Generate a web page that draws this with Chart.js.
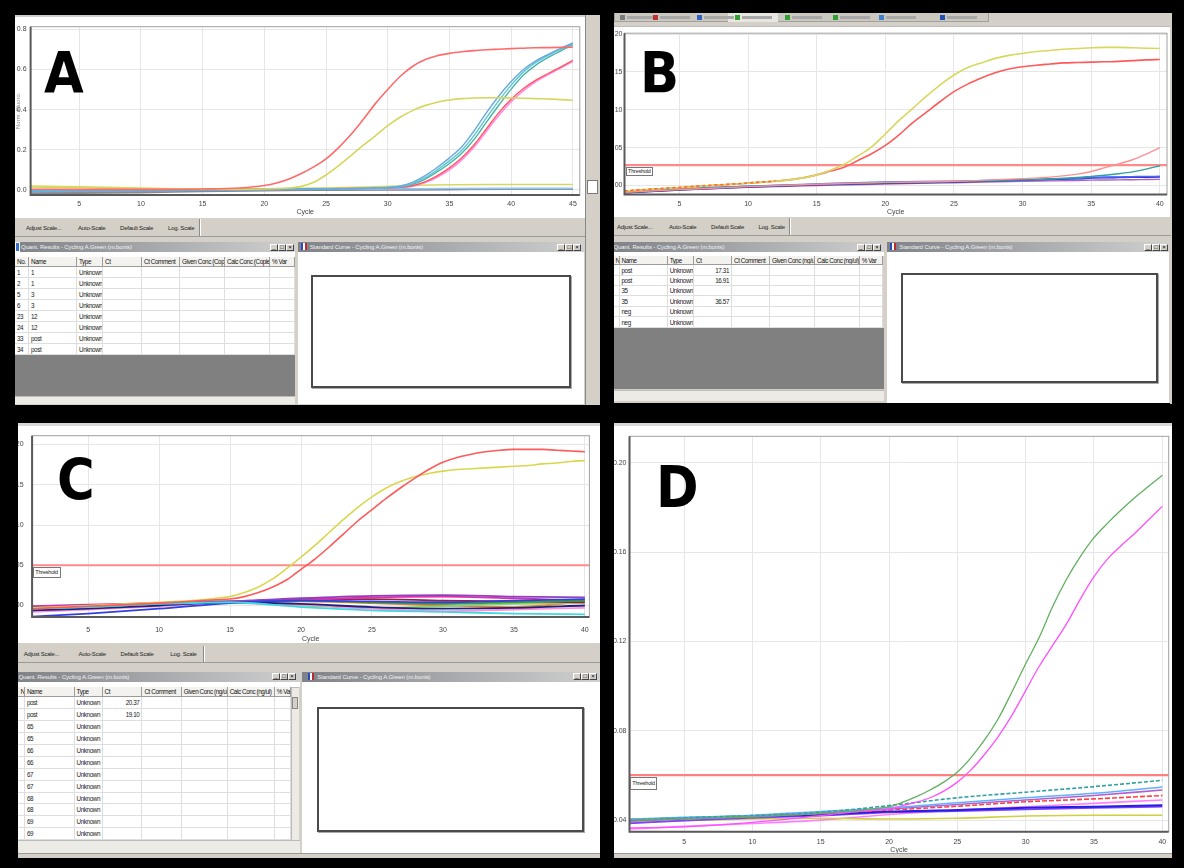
<!DOCTYPE html>
<html lang="en">
<head>
<meta charset="UTF-8">
<title>Amplification plots A-D</title>
<script src="https://cdn.jsdelivr.net/npm/chart.js"></script>
<style>
  body { margin: 0; background: #000; font-family: 'Liberation Sans', Arial, sans-serif; }
  #page { position: relative; width: 1184px; height: 868px; overflow: hidden; background: #000; }
  .abs { position: absolute; box-sizing: border-box; }
  .white { background: #fff; }
  .grey { background: #d4d0c8; }
  .dark { background: #808080; }
  canvas { position: absolute; z-index: 1; }
  .letter { position: absolute; z-index: 3; font-family: 'Liberation Sans Narrow', 'DejaVu Sans Condensed', 'Liberation Sans', sans-serif; font-weight: bold; font-size: 57px; line-height: 57px; color: #000; }
  .bl { position: absolute; font-size: 6px; letter-spacing: -0.2px; line-height: 8px; color: #222; white-space: nowrap; }
  .tb { position: absolute; height: 10px; background: linear-gradient(to right, #7f8288, #d0d0d0); color: #f2f2f2; font-size: 6px; letter-spacing: -0.1px; line-height: 10px; white-space: nowrap; overflow: hidden; box-sizing: border-box; }
  .wb { position: absolute; top: 1.5px; width: 8px; height: 7px; background: #d4d0c8; border: 1px solid; border-color: #fff #444 #444 #fff; font-size: 6px; line-height: 5px; text-align: center; color: #000; box-sizing: border-box; }
  .hc, .c { position: absolute; box-sizing: border-box; font-size: 6.3px; letter-spacing: -0.4px; white-space: nowrap; overflow: hidden; padding-left: 2px; }
  .hc { background: #f3f2ee; color: #111; border-right: 1px solid #9c9c9c; border-bottom: 1px solid #9c9c9c; }
  .c { background: #fff; color: #222; border-right: 1px solid #dedede; border-bottom: 1px solid #dedede; }
  .c.num { text-align: right; padding-right: 2px; }
  .thr { position: absolute; z-index: 3; background: #fff; border: 1px solid #777; font-size: 5.5px; letter-spacing: -0.2px; line-height: 8px; padding: 0 1px; color: #222; white-space: nowrap; overflow: hidden; box-sizing: border-box; }
  .inner { position: absolute; border: 2px solid #4a4a4a; background: #fff; box-sizing: border-box; box-shadow: 1px 1px 0 #aaa; }
  .scroll { position: absolute; background: #ecebe6; border-top: 1px solid #bbb; box-sizing: border-box; }
  .ico { position: absolute; width: 5px; height: 5px; }
  .blur { position: absolute; height: 3px; background: #a8a8a8; }
</style>
</head>
<body>
<div id="page">
  <canvas id="chartA" width="570" height="203" style="left:15px;top:15px"></canvas>
  <canvas id="chartB" width="556" height="191" style="left:613.5px;top:26.7px"></canvas>
  <canvas id="chartC" width="582" height="221" style="left:18.4px;top:422.7px"></canvas>
  <canvas id="chartD" width="558" height="435" style="left:613.5px;top:422.7px"></canvas>
</div>

<script>
  // ---- panel A (cycles 1..45) ----
  const A_cycles = [1, 5, 10, 15, 18, 20, 21, 22, 23, 24, 25, 26, 27, 28, 29, 30, 31, 32, 33, 34, 35, 36, 37, 38, 39, 40, 41, 42, 43, 44, 45];
  const A_red    = [0.004, 0.003, 0.003, 0.005, 0.010, 0.022, 0.035, 0.055, 0.082, 0.115, 0.155, 0.21, 0.275, 0.35, 0.43, 0.50, 0.565, 0.615, 0.648, 0.668, 0.68, 0.688, 0.694, 0.698, 0.701, 0.704, 0.706, 0.708, 0.709, 0.710, 0.711];
  const A_yellow = [0.015, 0.012, 0.006, 0.004, 0.004, 0.005, 0.007, 0.010, 0.018, 0.038, 0.075, 0.12, 0.17, 0.222, 0.27, 0.32, 0.362, 0.395, 0.42, 0.437, 0.448, 0.455, 0.458, 0.459, 0.459, 0.458, 0.457, 0.455, 0.453, 0.45, 0.447];
  const A_blue   = [-0.005, -0.004, -0.002, 0.0, 0.002, 0.003, 0.004, 0.004, 0.005, 0.005, 0.006, 0.006, 0.007, 0.008, 0.010, 0.013, 0.02, 0.038, 0.07, 0.112, 0.16, 0.215, 0.295, 0.385, 0.468, 0.54, 0.6, 0.643, 0.675, 0.705, 0.732];
  const A_cyan   = [-0.004, -0.003, -0.001, 0.001, 0.002, 0.003, 0.003, 0.004, 0.004, 0.005, 0.005, 0.006, 0.006, 0.007, 0.009, 0.012, 0.017, 0.032, 0.06, 0.1, 0.145, 0.198, 0.272, 0.36, 0.445, 0.522, 0.588, 0.635, 0.67, 0.7, 0.727];
  const A_teal   = [-0.006, -0.005, -0.003, 0.0, 0.002, 0.002, 0.003, 0.003, 0.004, 0.004, 0.005, 0.005, 0.006, 0.007, 0.008, 0.011, 0.015, 0.028, 0.053, 0.09, 0.132, 0.183, 0.252, 0.338, 0.422, 0.502, 0.572, 0.622, 0.66, 0.692, 0.722];
  const A_red2   = [-0.002, -0.002, 0.0, 0.002, 0.003, 0.004, 0.004, 0.005, 0.005, 0.006, 0.006, 0.007, 0.007, 0.008, 0.008, 0.010, 0.013, 0.021, 0.04, 0.07, 0.11, 0.16, 0.225, 0.305, 0.385, 0.452, 0.505, 0.547, 0.58, 0.612, 0.646];
  const A_pink   = [-0.003, -0.003, -0.001, 0.001, 0.002, 0.003, 0.003, 0.004, 0.004, 0.005, 0.005, 0.006, 0.006, 0.007, 0.007, 0.009, 0.012, 0.019, 0.036, 0.063, 0.1, 0.15, 0.214, 0.293, 0.372, 0.44, 0.495, 0.54, 0.575, 0.607, 0.64];
  const A_baseCycles = [1, 5, 10, 15, 20, 25, 30, 35, 40, 45];
  const A_baseYellow = [0.02, 0.016, 0.01, 0.006, 0.006, 0.01, 0.018, 0.026, 0.027, 0.027];
  const A_baseLtBlue = [-0.008, -0.006, -0.004, 0.0, 0.003, 0.004, 0.005, 0.007, 0.008, 0.008];
  const A_baseGrey   = [-0.016, -0.015, -0.012, -0.006, -0.002, 0.0, 0.002, 0.004, 0.005, 0.005];
  const A_baseGreen  = [0.0, -0.002, 0.0, 0.004, 0.006, 0.007, 0.006, 0.005, 0.005, 0.005];
  const A_basePurple = [-0.012, -0.01, -0.007, -0.004, -0.001, 0.001, 0.002, 0.003, 0.004, 0.004];
  const A_baseOrange = [-0.004, -0.006, -0.003, 0.002, 0.004, 0.005, 0.005, 0.006, 0.006, 0.006];
  const A_xTicks = [5, 10, 15, 20, 25, 30, 35, 40, 45];
  const A_yTicks = [0, 0.2, 0.4, 0.6, 0.8];
  const A_yLabels = ['0.0', '0.2', '0.4', '0.6', '0.8'];

  // ---- panel B (cycles 1..40) ----
  const B_cycles = [1, 3, 5, 7, 10, 12, 14, 15, 16, 17, 18, 19, 20, 21, 22, 23, 24, 25, 26, 27, 28, 29, 30, 31, 32, 33, 34, 35, 36, 37, 38, 39, 40];
  const B_yellow = [-0.75, -0.5, -0.3, -0.05, 0.3, 0.55, 1.0, 1.4, 2.0, 2.8, 3.9, 5.1, 6.8, 8.6, 10.2, 11.8, 13.3, 14.6, 15.6, 16.2, 16.8, 17.2, 17.45, 17.7, 17.85, 18.0, 18.1, 18.2, 18.25, 18.25, 18.2, 18.15, 18.1];
  const B_red    = [-0.75, -0.5, -0.3, -0.05, 0.3, 0.55, 1.0, 1.4, 1.9, 2.4, 3.3, 4.2, 5.3, 6.7, 8.3, 9.7, 11.1, 12.4, 13.4, 14.2, 14.9, 15.4, 15.7, 15.9, 16.05, 16.2, 16.25, 16.3, 16.35, 16.4, 16.5, 16.6, 16.65];
  const B_lateCycles = [1, 5, 10, 15, 20, 25, 30, 32, 34, 35, 36, 37, 38, 39, 40];
  const B_pink   = [-0.9, -0.55, -0.15, 0.15, 0.4, 0.55, 0.9, 1.1, 1.5, 1.85, 2.35, 2.85, 3.4, 4.15, 5.0];
  const B_teal   = [-0.9, -0.5, -0.1, 0.15, 0.35, 0.5, 0.75, 0.85, 1.05, 1.2, 1.35, 1.55, 1.8, 2.15, 2.6];
  const B_blue   = [-0.9, -0.45, -0.1, 0.2, 0.45, 0.55, 0.75, 0.85, 0.95, 1.05, 1.1, 1.12, 1.15, 1.18, 1.2];
  const B_navy   = [-0.95, -0.6, -0.2, 0.1, 0.3, 0.45, 0.7, 0.8, 0.9, 0.98, 1.02, 1.05, 1.08, 1.1, 1.12];
  const B_purple = [-1.0, -0.6, -0.25, 0.0, 0.2, 0.35, 0.55, 0.6, 0.66, 0.7, 0.72, 0.74, 0.76, 0.78, 0.8];
  const B_dashCycles = [1, 3, 5, 7, 9, 12];
  const B_dash   = [-0.72, -0.48, -0.25, 0.0, 0.2, 0.6];
  const B_threshold = 2.7;
  const B_xTicks = [5, 10, 15, 20, 25, 30, 35, 40];
  const B_yTicks = [0, 5, 10, 15, 20];
  const B_yLabels = ['00', '05', '10', '15', '20'];

  // ---- panel C ----
  const C_cycles = [1, 5, 10, 13, 14, 15, 16, 17, 18, 19, 20, 21, 22, 23, 24, 25, 26, 27, 28, 29, 30, 31, 32, 33, 34, 35, 36, 37, 38, 39, 40];
  const C_yellow = [-0.003, 0.0, 0.004, 0.007, 0.009, 0.011, 0.016, 0.023, 0.033, 0.046, 0.06, 0.075, 0.091, 0.107, 0.122, 0.135, 0.146, 0.154, 0.160, 0.164, 0.167, 0.169, 0.170, 0.171, 0.172, 0.173, 0.174, 0.176, 0.177, 0.179, 0.180];
  const C_red    = [-0.004, -0.001, 0.003, 0.006, 0.007, 0.008, 0.011, 0.016, 0.023, 0.032, 0.045, 0.058, 0.073, 0.089, 0.105, 0.119, 0.133, 0.146, 0.158, 0.169, 0.178, 0.184, 0.188, 0.191, 0.193, 0.194, 0.194, 0.194, 0.193, 0.192, 0.191];
  const C_baseCycles = [1, 5, 10, 15, 20, 25, 30, 35, 40];
  const C_baseCyan    = [-0.004, -0.002, 0.002, 0.004, -0.002, -0.006, -0.008, -0.010, -0.011];
  const C_baseBlue    = [-0.014, -0.010, -0.004, 0.003, 0.006, 0.005, 0.004, 0.006, 0.008];
  const C_baseNavy    = [-0.006, -0.004, 0.0, 0.004, 0.002, -0.002, -0.004, -0.003, 0.0];
  const C_basePurple  = [-0.002, 0.0, 0.003, 0.005, 0.009, 0.012, 0.013, 0.011, 0.010];
  const C_baseGreen   = [-0.003, -0.001, 0.002, 0.004, 0.006, 0.004, 0.002, 0.004, 0.006];
  const C_baseMagenta = [-0.001, 0.001, 0.003, 0.005, 0.007, 0.010, 0.011, 0.009, 0.006];
  const C_basePink    = [-0.008, -0.005, -0.001, 0.003, 0.001, -0.004, -0.007, -0.005, -0.003];
  const C_baseDkRed   = [-0.001, 0.0, 0.003, 0.004, 0.008, 0.008, 0.006, 0.005, 0.004];
  const C_baseLtGreen = [-0.005, -0.003, 0.001, 0.004, 0.0, -0.003, -0.001, 0.002, 0.003];
  const C_baseOrange  = [-0.002, 0.0, 0.003, 0.005, 0.005, 0.003, 0.0, -0.002, 0.005];
  const C_threshold = 0.05;
  const C_xTicks = [5, 10, 15, 20, 25, 30, 35, 40];
  const C_yTicks = [0, 0.05, 0.10, 0.15, 0.20];
  const C_yLabels = ['0.00', '0.05', '0.10', '0.15', '0.20'];

  // ---- panel D ----
  const D_cycles = [1, 5, 10, 15, 18, 20, 21, 22, 23, 24, 25, 26, 27, 28, 29, 30, 31, 32, 33, 34, 35, 36, 37, 38, 39, 40];
  const D_green   = [0.040, 0.0405, 0.0415, 0.043, 0.0445, 0.046, 0.048, 0.0505, 0.0535, 0.057, 0.0615, 0.068, 0.076, 0.0855, 0.0975, 0.110, 0.122, 0.136, 0.148, 0.158, 0.1665, 0.173, 0.179, 0.1845, 0.1895, 0.1945];
  const D_magenta = [0.0365, 0.037, 0.039, 0.042, 0.044, 0.045, 0.0465, 0.048, 0.050, 0.053, 0.057, 0.0625, 0.0695, 0.0775, 0.087, 0.098, 0.109, 0.1185, 0.128, 0.139, 0.149, 0.157, 0.163, 0.1685, 0.1745, 0.1805];
  const D_baseCycles = [1, 5, 10, 15, 20, 25, 30, 35, 40];
  const D_baseTeal   = [0.040, 0.041, 0.042, 0.0435, 0.0465, 0.050, 0.0525, 0.055, 0.0578];
  const D_baseLtBlue = [0.0405, 0.0412, 0.0422, 0.0438, 0.0455, 0.0478, 0.050, 0.052, 0.0548];
  const D_basePurple = [0.0395, 0.0405, 0.0415, 0.043, 0.045, 0.047, 0.049, 0.051, 0.0535];
  const D_baseRed    = [0.040, 0.041, 0.0418, 0.043, 0.0445, 0.0462, 0.0482, 0.0495, 0.051];
  const D_baseBlue   = [0.0402, 0.0408, 0.0418, 0.0425, 0.0438, 0.0445, 0.0455, 0.046, 0.0466];
  const D_baseViolet = [0.0385, 0.0398, 0.041, 0.042, 0.0435, 0.044, 0.0448, 0.0455, 0.046];
  const D_baseYellow = [0.039, 0.0398, 0.0405, 0.0408, 0.0405, 0.0408, 0.0418, 0.0422, 0.0422];
  const D_basePink   = [0.036, 0.0372, 0.0385, 0.040, 0.0425, 0.0445, 0.046, 0.0475, 0.049];
  const D_threshold = 0.0601;
  const D_xTicks = [5, 10, 15, 20, 25, 30, 35, 40];
  const D_yTicks = [0.04, 0.08, 0.12, 0.16, 0.20];
  const D_yLabels = ['0.04', '0.08', '0.12', '0.16', '0.20'];

  // ---- results tables ----
  const A_header = ['No.', 'Name', 'Type', 'Ct', 'Ct Comment', 'Given Conc (Copies)', 'Calc Conc (Copies)', '% Var'];
  const A_rows = [['1', '1', 'Unknown', ''], ['2', '1', 'Unknown', ''], ['5', '3', 'Unknown', ''], ['6', '3', 'Unknown', ''],
                  ['23', '12', 'Unknown', ''], ['24', '12', 'Unknown', ''], ['33', 'post', 'Unknown', ''], ['34', 'post', 'Unknown', '']];
  const B_header = ['No.', 'Name', 'Type', 'Ct', 'Ct Comment', 'Given Conc (ng/ul)', 'Calc Conc (ng/ul)', '% Var'];
  const B_rows = [['', 'post', 'Unknown', '17.31'], ['', 'post', 'Unknown', '16.91'], ['', '35', 'Unknown', ''],
                  ['', '35', 'Unknown', '36.57'], ['', 'neg', 'Unknown', ''], ['', 'neg', 'Unknown', '']];
  const C_rows = [['', 'post', 'Unknown', '20.37'], ['', 'post', 'Unknown', '19.10'], ['', '65', 'Unknown', ''], ['', '65', 'Unknown', ''],
                  ['', '66', 'Unknown', ''], ['', '66', 'Unknown', ''], ['', '67', 'Unknown', ''], ['', '67', 'Unknown', ''],
                  ['', '68', 'Unknown', ''], ['', '68', 'Unknown', ''], ['', '69', 'Unknown', ''], ['', '69', 'Unknown', '']];
  const scaleButtons = ['Adjust Scale...', 'Auto-Scale', 'Default Scale', 'Log. Scale'];

  const page = document.getElementById('page');
  function add(html) { page.insertAdjacentHTML('beforeend', html); }
  function box(l, t, w, h, cls, extra) {
    add(`<div class="abs ${cls || ''}" style="left:${l}px;top:${t}px;width:${w}px;height:${h}px;${extra || ''}"></div>`);
  }
  function titleBar(l, t, w, text, indent, btnX, icon) {
    let ic = icon ? '<span style="display:inline-block;width:6px;height:7px;background:#fff;border-left:2px solid #2a4cc0;border-right:2px solid #c02a2a;margin:0 3px 0 2px;vertical-align:-1px;box-sizing:border-box"></span>' : '';
    add(`<div class="tb" style="left:${l}px;top:${t}px;width:${w}px;padding-left:${indent}px">${ic}${text}</div>`);
    ['_', '□', '×'].forEach((s, i) => add(`<div class="wb" style="left:${btnX + i * 8}px;top:${t + 1.5}px">${s}</div>`));
  }
  function buttonBar(l, t, w, h, xs, sep) {
    box(l, t, w, h, 'grey', 'border-bottom:1px solid #9a9a9a');
    scaleButtons.forEach((s, i) => add(`<div class="bl" style="left:${xs[i]}px;top:${t + h / 2 - 4}px">${s}</div>`));
    box(sep, t + 1, 2, h - 2, '', 'border-left:1px solid #8a8a8a;border-right:1px solid #fff');
  }
  function grid(bounds, top, headH, rowH, header, rows) {
    for (let i = 0; i < bounds.length - 1; i++) {
      const l = bounds[i], w = bounds[i + 1] - bounds[i];
      add(`<div class="hc" style="left:${l}px;top:${top}px;width:${w}px;height:${headH}px;line-height:${headH}px">${header[i]}</div>`);
      rows.forEach((r, j) => {
        const y = Math.round(top + headH + j * rowH);
        const y2 = Math.round(top + headH + (j + 1) * rowH);
        add(`<div class="c ${i === 3 ? 'num' : ''}" style="left:${l}px;top:${y}px;width:${w}px;height:${y2 - y}px;line-height:${y2 - y}px">${r[i] || ''}</div>`);
      });
    }
  }
  function letter(ch, l, t) { add(`<div class="letter" style="left:${l}px;top:${t}px">${ch}</div>`); }
  function thresholdTag(l, t, w, h) { add(`<div class="thr" style="left:${l}px;top:${t}px;width:${w}px;height:${h}px;line-height:${h - 2}px">Threshold</div>`); }

  // ---------- window chrome ----------
  // A
  box(15, 15, 570, 203, 'white', 'border-top:2px solid #cfcfcf');
  box(585, 15, 15, 390, 'grey', 'border-left:1px solid #888');
  box(587, 180, 11, 14, 'white', 'border:1px solid #777');
  box(15, 218, 570, 187, 'grey');
  buttonBar(15, 218, 570, 19, [26, 78, 120, 168], 199);
  titleBar(15, 242, 280, 'Quant. Results - Cycling A.Green (m.bonis)', 6, 270, false);
  box(15, 242, 5, 10, '', 'background:#3a70d0;border:1px solid #fff');
  box(15, 252, 280, 5, 'white');
  grid([15, 29, 77, 103, 142, 180, 225, 270, 295], 256.7, 10, 11, A_header, A_rows);
  box(15, 354.7, 280, 41, 'dark');
  box(15, 396, 280, 8, 'scroll');
  titleBar(297.7, 242, 286, 'Standard Curve - Cycling A.Green (m.bonis)', 1, 557, true);
  box(297.7, 252, 286, 152, 'white');
  box(311, 275, 260, 113, 'inner');

  // B
  box(613.5, 13, 557, 14, 'grey', 'border-bottom:1px solid #bbb');
  box(613.5, 13, 375, 9, '', 'border:1px solid #a0a0a0;border-top:none;background:#cbc8c0');
  box(728, 13, 50, 9, '', 'background:#e8e6e0');
  [[620, '#7a7a7a'], [653, '#c03030'], [697, '#3060c0'], [735, '#30a030'], [785, '#30a030'], [833, '#30a030'], [879, '#4080d0'], [940, '#2050b0']].forEach(p => {
    add(`<div class="ico" style="left:${p[0]}px;top:15px;background:${p[1]}"></div>`);
    add(`<div class="blur" style="left:${p[0] + 7}px;top:16px;width:30px"></div>`);
  });
  box(613.5, 26.7, 556, 191, 'white');
  box(1169.5, 13, 2, 391, 'grey');
  box(613.5, 217.3, 557, 186, 'grey');
  buttonBar(613.5, 217.3, 557, 19, [617, 669, 711, 758.5], 789);
  titleBar(613.5, 242, 270, 'Quant. Results - Cycling A.Green (m.bonis)', 0, 857, false);
  box(613.5, 252, 270, 4, 'white');
  grid([613.5, 619.5, 667.7, 694, 732, 770, 815, 859.7, 883.5], 255.7, 9.5, 10.4, B_header, B_rows);
  box(613.5, 328, 270, 61, 'dark');
  box(613.5, 389.5, 270, 11, 'scroll');
  titleBar(887.3, 242, 282, 'Standard Curve - Cycling A.Green (m.bonis)', 1, 1144, true);
  box(887.3, 252, 282, 151, 'white');
  box(900.6, 272.7, 257, 110, 'inner');

  // C
  box(18.4, 422.7, 581.6, 221, 'white', 'border-top:3px solid #d8d8d8');
  box(18.4, 643.3, 581.6, 215, 'grey');
  buttonBar(18.4, 645, 581.6, 18, [23.7, 78.5, 120.5, 170.3], 202.8);
  titleBar(18.4, 671.7, 282, 'Quant. Results - Cycling A.Green (m.bonis)', 0, 272, false);
  box(18.4, 681.7, 282, 5, 'white');
  grid([18.4, 24.9, 74.6, 102.6, 142.4, 181.8, 227.7, 274.8, 290.8], 686.7, 10.6, 11.9, B_header, C_rows);
  box(290.8, 686.7, 8, 153.3, 'scroll', 'border-left:1px solid #bbb');
  box(291.5, 697, 6.5, 12, 'grey', 'border:1px solid #888');
  box(18.4, 840, 282, 13, 'scroll');
  titleBar(302.3, 671.7, 297.7, 'Standard Curve - Cycling A.Green (m.bonis)', 4, 573, true);
  box(302.3, 681.7, 297.7, 171, 'white');
  box(316.9, 706.7, 266.7, 125, 'inner');
  box(18.4, 853, 581.6, 5, 'grey', 'border-top:1px solid #999');

  // D
  box(613.5, 422.7, 558, 431, 'white', 'border-top:3px solid #d8d8d8');
  box(613.5, 853.3, 558, 5, 'grey', 'border-top:1px solid #999;z-index:2');

  // threshold tags and panel letters
  thresholdTag(626, 166.7, 27, 9.5);
  thresholdTag(33.3, 566.7, 27.5, 11.5);
  thresholdTag(630.3, 776.7, 27, 13);
  letter('A', 44, 44.5);
  letter('B', 640, 44.5);
  letter('C', 57, 451.5);
  letter('D', 656, 458.5);

  // ---------- charts ----------
  const tickFont = { family: "'Liberation Sans', Arial, sans-serif", size: 7 };

  const framePlugin = {
    id: 'frame',
    afterDatasetsDraw(chart) {
      const { ctx, chartArea: a } = chart;
      ctx.save();
      ctx.strokeStyle = '#a0a0a0';
      ctx.lineWidth = 1;
      ctx.strokeRect(a.left, a.top, a.right - a.left, a.bottom - a.top);
      ctx.strokeStyle = '#5a5a5a';
      ctx.lineWidth = 2;
      ctx.beginPath();
      ctx.moveTo(a.left, a.top);
      ctx.lineTo(a.left, a.bottom);
      ctx.lineTo(a.right, a.bottom);
      ctx.stroke();
      ctx.restore();
    }
  };

  function line(xs, ys, color, width, dash) {
    return {
      data: xs.map((x, i) => ({ x: x, y: ys[i] })),
      borderColor: color,
      borderWidth: width || 1.4,
      borderDash: dash || [],
      pointRadius: 0,
      fill: false,
      cubicInterpolationMode: 'monotone'
    };
  }

  function plot(id, cfg) {
    return new Chart(document.getElementById(id), {
      type: 'line',
      data: { datasets: cfg.datasets },
      options: {
        responsive: false,
        animation: false,
        events: [],
        layout: { padding: { left: 0, top: cfg.padTop, right: cfg.padRight, bottom: 0 } },
        plugins: { legend: { display: false }, tooltip: { enabled: false } },
        scales: {
          x: {
            type: 'linear', min: cfg.xMin, max: cfg.xMax,
            afterBuildTicks: ax => { ax.ticks = cfg.xTicks.map(v => ({ value: v })); },
            afterFit: ax => { ax.height = cfg.xHeight; },
            ticks: { font: tickFont, color: '#444', padding: cfg.xPad, autoSkip: false, maxRotation: 0, callback: v => String(v) },
            grid: { color: '#e6e6e6', drawTicks: false },
            border: { display: false },
            title: { display: true, text: 'Cycle', font: tickFont, color: '#444', padding: { top: 0, bottom: cfg.titlePad } }
          },
          y: {
            type: 'linear', min: cfg.yMin, max: cfg.yMax,
            afterBuildTicks: ax => { ax.ticks = cfg.yTicks.map(v => ({ value: v })); },
            afterFit: ax => { ax.width = cfg.yWidth; },
            ticks: { font: tickFont, color: '#444', padding: cfg.yPad, callback: (v, i) => cfg.yLabels[i] },
            grid: { color: '#e6e6e6', drawTicks: false },
            border: { display: false },
            title: cfg.yTitle
              ? { display: true, text: cfg.yTitle, font: { family: tickFont.family, size: 6 }, color: '#888', padding: 0 }
              : { display: false }
          }
        }
      },
      plugins: [framePlugin]
    });
  }

  plot('chartA', {
    xMin: 1.065, xMax: 45.56, yMin: -0.025, yMax: 0.813,
    xTicks: A_xTicks, yTicks: A_yTicks, yLabels: A_yLabels,
    padTop: 11.7, padRight: 5.2, xHeight: 23, yWidth: 15.6, xPad: 4.8, yPad: 4, titlePad: 2.1,
    yTitle: 'Norm. Fluoro.',
    datasets: [
      line(A_cycles, A_red, '#ff6a6a', 1.6),
      line(A_cycles, A_yellow, '#d6d65c', 1.6),
      line(A_cycles, A_blue, '#6aa8e0', 1.4),
      line(A_cycles, A_cyan, '#5cc8d0', 1.4),
      line(A_cycles, A_teal, '#48b4a8', 1.4),
      line(A_cycles, A_red2, '#ff5a5a', 1.4),
      line(A_cycles, A_pink, '#ff8cf0', 1.6),
      line(A_baseCycles, A_baseYellow, '#d8d860', 1.6),
      line(A_baseCycles, A_baseLtBlue, '#8cc8f8', 1.6),
      line(A_baseCycles, A_baseGrey, '#8a8a8a', 2),
      line(A_baseCycles, A_baseGreen, '#48a048', 1.4),
      line(A_baseCycles, A_basePurple, '#7a5ab0', 1.6),
      line(A_baseCycles, A_baseOrange, '#e07840', 1.4)
    ]
  });

  plot('chartB', {
    xMin: 1.0, xMax: 40.52, yMin: -1.21, yMax: 20.13,
    xTicks: B_xTicks, yTicks: B_yTicks, yLabels: B_yLabels,
    padTop: 4, padRight: 3, xHeight: 23.4, yWidth: 10.5, xPad: 5.5, yPad: 2, titlePad: 1.8,
    datasets: [
      line(B_dashCycles, B_dash, '#ff6a20', 1.6, [3, 3]),
      line(B_cycles, B_yellow, '#d8d860', 1.6),
      line(B_cycles, B_red, '#ff5a5a', 1.6),
      line(B_lateCycles, B_pink, '#ff9090', 1.4),
      line(B_lateCycles, B_teal, '#30a0a0', 1.4),
      line(B_lateCycles, B_blue, '#4a60ff', 1.6),
      line(B_lateCycles, B_navy, '#2030a0', 1.6),
      line(B_lateCycles, B_purple, '#b060c8', 1.4),
      line([1.0, 40.52], [B_threshold, B_threshold], '#ff8a8a', 2.2)
    ]
  });

  plot('chartC', {
    xMin: 1.05, xMax: 40.32, yMin: -0.0143, yMax: 0.211,
    xTicks: C_xTicks, yTicks: C_yTicks, yLabels: C_yLabels,
    padTop: 10, padRight: 10.6, xHeight: 27, yWidth: 14.1, xPad: 9, yPad: 8.5, titlePad: 1.2,
    datasets: [
      line(C_cycles, C_red, '#ff5a5a', 1.6),
      line(C_cycles, C_yellow, '#d8d850', 1.6),
      line([1.05, 40.32], [C_threshold, C_threshold], '#ff8a8a', 2.2),
      line(C_baseCycles, C_baseCyan, '#40d8e0', 1.8),
      line(C_baseCycles, C_baseBlue, '#3040e0', 1.8),
      line(C_baseCycles, C_baseNavy, '#202080', 1.8),
      line(C_baseCycles, C_basePurple, '#9040c0', 1.8),
      line(C_baseCycles, C_baseGreen, '#30a040', 1.8),
      line(C_baseCycles, C_baseMagenta, '#e030b0', 1.8),
      line(C_baseCycles, C_basePink, '#ff90d8', 1.8),
      line(C_baseCycles, C_baseDkRed, '#a02040', 1.8),
      line(C_baseCycles, C_baseLtGreen, '#90d070', 1.8),
      line(C_baseCycles, C_baseOrange, '#e08030', 1.8)
    ]
  });

  plot('chartD', {
    xMin: 1.0, xMax: 40.47, yMin: 0.0348, yMax: 0.2119,
    xTicks: D_xTicks, yTicks: D_yTicks, yLabels: D_yLabels,
    padTop: 13.3, padRight: 1.2, xHeight: 26.3, yWidth: 15.5, xPad: 5.8, yPad: 3, titlePad: 3.3,
    datasets: [
      line(D_cycles, D_green, '#60b060', 1.3),
      line(D_cycles, D_magenta, '#ff50ff', 1.3),
      line([1.0, 40.47], [D_threshold, D_threshold], '#ff8080', 2.2),
      line(D_baseCycles, D_baseTeal, '#30a0a0', 1.6, [4, 2]),
      line(D_baseCycles, D_baseLtBlue, '#60b0ff', 1.6),
      line(D_baseCycles, D_basePurple, '#b060d0', 1.6),
      line(D_baseCycles, D_baseRed, '#ff4040', 1.6, [5, 2]),
      line(D_baseCycles, D_baseBlue, '#2020e0', 2),
      line(D_baseCycles, D_baseViolet, '#8040ff', 1.8),
      line(D_baseCycles, D_baseYellow, '#d0d040', 1.6),
      line(D_baseCycles, D_basePink, '#ff80ff', 1.6)
    ]
  });
</script>
</body>
</html>
